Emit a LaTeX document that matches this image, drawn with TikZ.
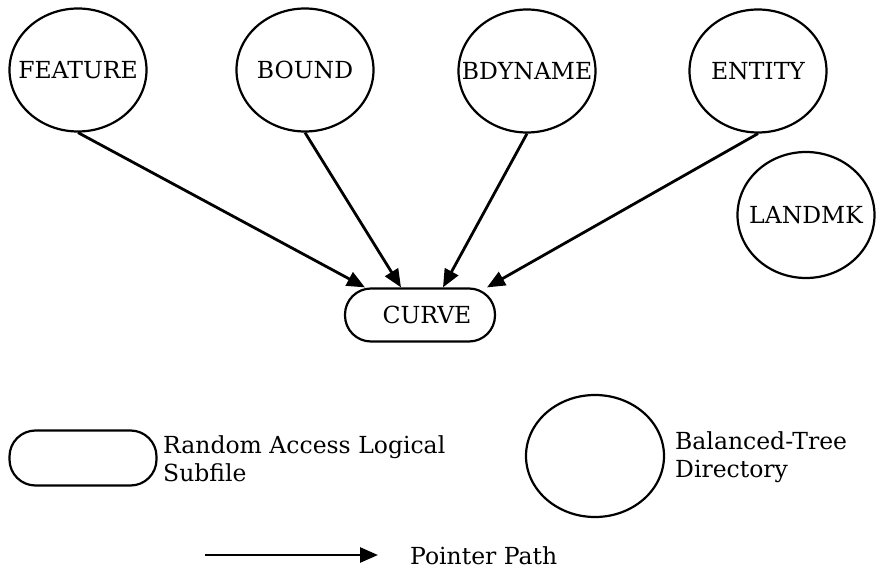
\documentclass[tikz,border=0pt]{standalone}
\usepackage{fontspec}
\setmainfont{DejaVu Serif}
\usetikzlibrary{shapes.geometric,arrows.meta}
\newcommand{\zw}[1]{\makebox[0pt]{#1}}
\begin{document}
\begin{tikzpicture}[x=1pt,y=-1pt,
  dir/.style={ellipse,draw,line width=2.2pt,minimum width=137pt,minimum height=123pt,inner sep=0pt,font=\fontsize{23.5}{26}\selectfont},
  sub/.style={rounded corners=26pt,draw,line width=2.2pt,minimum width=150pt,minimum height=53pt,inner sep=0pt,font=\fontsize{23.5}{26}\selectfont},
  ptr/.style={line width=2.8pt,-{Triangle[length=18pt,width=15pt]}},
  legtext/.style={anchor=west,align=left,inner sep=0pt,font=\fontsize{23.5}{28}\selectfont}]
\useasboundingbox (0,0) rectangle (881,572);
\node[dir] (feature) at (78,70) {\zw{FEATURE}};
\node[dir] (bound) at (305,70) {\zw{BOUND}};
\node[dir] (bdyname) at (527,71) {\zw{BDYNAME}};
\node[dir] (entity) at (758,71) {\zw{ENTITY}};
\node[dir,minimum height=126pt] (landmk) at (806,215) {\zw{LANDMK}};
\node[sub] (curve) at (420,315) {\zw{\hspace*{14pt}CURVE}};
\draw[ptr] (feature.south) -- ([xshift=-55pt]curve.north);
\draw[ptr] (bound.south) -- ([xshift=-19pt]curve.north);
\draw[ptr] (bdyname.south) -- ([xshift=23pt]curve.north);
\draw[ptr] (entity.south) -- ([xshift=67pt]curve.north);
% legend
\node[sub,minimum width=147pt,minimum height=55pt] (legsub) at (83,458) {};
\node[legtext] (legsubtext) at (163,459) {Random Access Logical\\Subfile};
\node[dir,minimum width=138pt,minimum height=122pt] (legdir) at (595,456) {};
\node[legtext] (legdirtext) at (675,457) {Balanced-Tree\\Directory};
\coordinate (pa) at (205,555);
\coordinate (pb) at (378,555);
\draw[ptr] (pa) -- (pb);
\node[legtext] (ptrtext) at (410,556) {Pointer Path};
\end{tikzpicture}
\end{document}
